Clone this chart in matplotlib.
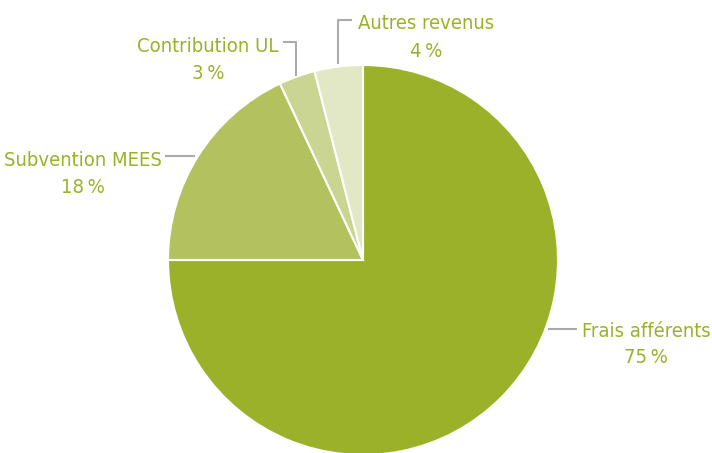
import matplotlib
matplotlib.use("Agg")
import matplotlib.pyplot as plt

labels = ["Frais afférents", "Subvention MEES", "Contribution UL", "Autres revenus"]
values = [75, 18, 3, 4]
colors = ["#9bb12a", "#b3c25e", "#cad592", "#e2e8c6"]

text_color = "#9bb12a"
line_color = "#aaaaaa"

plt.rcParams['font.family'] = ['DejaVu Sans']

fig = plt.figure(figsize=(7.12, 4.53), dpi=100)
ax = fig.add_axes([0, 0, 1, 1])

# y axis is inverted below, so counterclock=True draws clockwise on screen
ax.pie(values, colors=colors, startangle=-90, counterclock=True,
       center=(363, 260), radius=195, frame=True,
       wedgeprops=dict(edgecolor="white", linewidth=1.5))
ax.set_xlim(0, 712)
ax.set_ylim(453, 0)
ax.set_aspect("equal")
ax.axis("off")

# text centre x, baseline of name, baseline of percent, leader line
label_info = [
    (646, 337, 363, [(548, 329), (577, 329)]),
    (83, 166, 193, [(165, 156), (195, 156)]),
    (208, 52, 79, [(283, 42), (296, 42), (296, 76)]),
    (426, 29, 57, [(352, 20), (338, 20), (338, 64)]),
]

for lab, val, (tx, y1, y2, pts) in zip(labels, values, label_info):
    ax.text(tx, y1, lab, ha="center", va="baseline", color=text_color,
            fontsize=14.5, fontstretch="condensed")
    ax.text(tx, y2, str(val) + "\u2009%", ha="center", va="baseline", color=text_color,
            fontsize=14.5, fontstretch="condensed")
    xs = [p[0] for p in pts]
    ys = [p[1] for p in pts]
    ax.plot(xs, ys, color=line_color, linewidth=1.5, solid_capstyle="butt")

fig.savefig("out.png", dpi=100)
